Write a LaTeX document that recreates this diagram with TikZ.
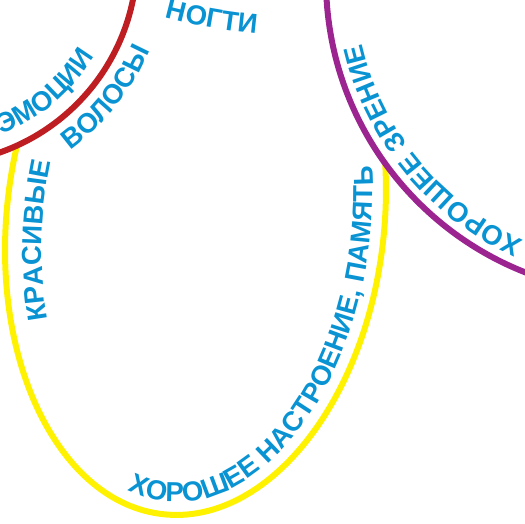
\documentclass[tikz,border=0pt]{standalone}
\usepackage{fontspec}
\setmainfont{Liberation Sans}
\usetikzlibrary{decorations.text}
\usepackage{xcolor}
\definecolor{petalyellow}{HTML}{FFF200}
\definecolor{petalred}{HTML}{BE1E22}
\definecolor{petalpurple}{HTML}{9C2491}
\definecolor{wordblue}{HTML}{0993D3}
\newcommand\petalfont{\bfseries\fontsize{27.5}{29}\selectfont}
\tikzset{
  petal/.style={line width=6pt},
  word/.style={decorate, decoration={text along path, text color=wordblue, text={|\petalfont|#1}}},
}

\begin{document}
\begin{tikzpicture}[x=1pt, y=1pt]
  \def\Rred{205}
  \def\Rpurple{314}

  \useasboundingbox (0,0) rectangle (525,524);
  \clip (0,0) rectangle (525,524);

  % yellow petal
  \begin{scope}[shift={(195.5,304)}, rotate=-6.3]
    \draw[petal, petalyellow] (0,0) circle[x radius=188.8, y radius=296];
  \end{scope}
  % red and purple petals lie over it
  \draw[petal, petalred, fill=white] (-68,565) circle[radius=\Rred];
  \draw[petal, petalpurple, fill=white] (640,544) circle[radius=\Rpurple];

  % words round the red petal
  \begin{scope}[shift={(-68,565)}]
    \path[word=ЭМОЦИИ, decoration={text align=right}] (-90:189) arc[start angle=-90, end angle=-31, radius=189];
    \path[word=ВОЛОСЫ] (-54:236) arc[start angle=-54, end angle=-10, radius=236];
  \end{scope}
  % words round the purple petal
  \begin{scope}[shift={(640,544)}]
    \path[word={ХОРОШЕЕ ЗРЕНИЕ}] (-114.2:285) arc[start angle=-114.2, end angle=-180, radius=285];
  \end{scope}
  % word of the top petal
  \begin{scope}[shift={(302,1008)}]
    \path[word=НОГТИ] (-105.3:520) arc[start angle=-105.3, end angle=-80, radius=520];
  \end{scope}
  % words inside the yellow petal
  \begin{scope}[shift={(195.5,304)}, rotate=-6.3]
    \path[word=КРАСИВЫЕ] (206.5:152 and 259) arc[start angle=206.5, end angle=150, x radius=152, y radius=259];
    \path[word={ХОРОШЕЕ НАСТРОЕНИЕ, ПАМЯТЬ}] (-102.5:175.8 and 283) arc[start angle=-102.5, end angle=40, x radius=175.8, y radius=283];
  \end{scope}
\end{tikzpicture}
\end{document}
